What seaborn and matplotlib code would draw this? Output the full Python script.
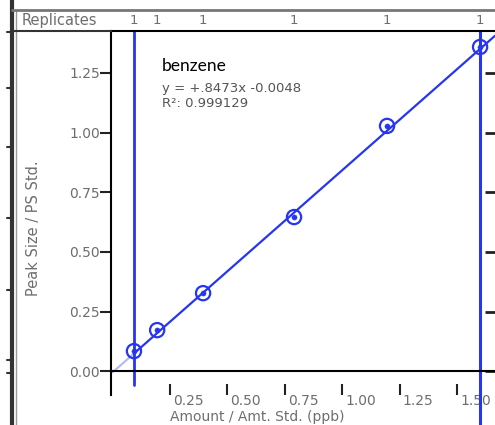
import numpy as np
import matplotlib.pyplot as plt
import matplotlib.transforms as mtransforms
from matplotlib.lines import Line2D
import seaborn as sns

# Calibration data for benzene
amount = [0.093, 0.194, 0.394, 0.790, 1.195, 1.600]
peak_ratio = [0.084, 0.172, 0.327, 0.646, 1.028, 1.359]
replicates = [1, 1, 1, 1, 1, 1]
slope, intercept = 0.8473, -0.0048
r_squared = 0.999129
compound = "benzene"
x_ticks = [0.25, 0.50, 0.75, 1.00, 1.25, 1.50]
y_ticks = [0.00, 0.25, 0.50, 0.75, 1.00, 1.25]

blue = "#2636f0"
grey = "#6e6e6e"

sns.set_style("white")
plt.rcParams['font.family'] = ['DejaVu Sans']

W, H = 495, 425
fig = plt.figure(figsize=(W / 100, H / 100), dpi=100)
ax = fig.add_axes([111 / W, 1 - 395 / H, 384 / W, 364 / H])

xmin, xmax = -0.007, 1.665
ymin, ymax = -0.10, 1.426
ax.set_xlim(xmin, xmax)
ax.set_ylim(ymin, ymax)

# fit line: faint below the first standard, solid beyond it
x0 = min(amount)
ax.plot([0, x0], [intercept, slope * x0 + intercept], color=blue, alpha=0.35, lw=1.5)
ax.plot([x0, xmax], [slope * x0 + intercept, slope * xmax + intercept], color=blue, lw=1.6)

# calibration range limits
ax.plot([x0, x0], [ymax, -0.06], color=blue, lw=2, clip_on=False)
ax.plot([max(amount), max(amount)], [ymax, -0.23], color=blue, lw=2.2, clip_on=False)

sns.scatterplot(x=amount, y=peak_ratio, ax=ax, s=105, facecolor="none",
                edgecolor=blue, linewidth=1.6, zorder=5)
sns.scatterplot(x=amount, y=peak_ratio, ax=ax, s=14, color=blue,
                edgecolor=blue, zorder=6)

ax.axhline(0, color="black", lw=1.5, zorder=4)

for s in ["bottom", "right"]:
    ax.spines[s].set_visible(False)
for s in ["left", "top"]:
    ax.spines[s].set_color("black")
    ax.spines[s].set_linewidth(1.5)

ax.set_xticks(x_ticks)
ax.set_xticklabels([f"{v:.2f}" for v in x_ticks], ha="left")
ax.set_yticks(y_ticks)
ax.set_yticklabels([f"{v:.2f}" for v in y_ticks])
ax.tick_params(axis="x", direction="in", length=8, width=1.5, color="#222222",
               labelsize=10, labelcolor=grey, pad=-1, bottom=True)
ax.tick_params(axis="y", direction="out", length=8, width=1.5, color="#222222",
               labelsize=10, labelcolor=grey, pad=0, left=True, right=True)
for t in ax.yaxis.get_major_ticks():
    t.tick2line.set_marker(0)  # pointing left from the right edge
    t.tick2line.set_markersize(7)
    t.tick2line.set_markeredgewidth(2)

# x tick labels sit a little right of their tick
offset = mtransforms.ScaledTranslation(3 / 100, 0, fig.dpi_scale_trans)
for lbl in ax.get_xticklabels():
    lbl.set_transform(lbl.get_transform() + offset)

# equation box
ax.text(0.215, 1.279, compound, fontsize=12.5, family=["Lato", "DejaVu Sans"],
        color="black", va="center")
ax.text(0.215, 1.183, f"y = +{slope:.4f}x -{abs(intercept):.4f}".replace("0.8473", ".8473"),
        fontsize=9.5, color="#555555", va="center")
ax.text(0.215, 1.124, f"R²: {r_squared}", fontsize=9.5, color="#555555", va="center")

# replicate counts band above the plot
for xv, n in zip(amount, replicates):
    ax.text(xv, 1 + 11 / 364, str(n), transform=ax.get_xaxis_transform(),
            ha="center", va="center", fontsize=9.5, color=grey, clip_on=False)
fig.text(22 / W, 1 - 20 / H, "Replicates", fontsize=10.5, color=grey,
         ha="left", va="center")

fig.text(34 / W, 1 - 228 / H, "Peak Size / PS Std.", rotation=90, fontsize=10.5,
         color=grey, ha="center", va="center")
fig.text(257 / W, 1 - 417 / H, "Amount / Amt. Std. (ppb)", fontsize=10,
         color=grey, ha="center", va="center")

# frame pieces from the surrounding window
def fline(xs, ys, **kw):
    fig.add_artist(Line2D([x / W for x in xs], [1 - y / H for y in ys], **kw))

fline([12, 12], [0, 425], color="#333333", lw=3)
fline([16, 16], [10, 425], color="#999999", lw=1)
fline([12, 495], [10, 10], color="#777777", lw=2)
fline([14, 111], [31, 31], color="#333333", lw=1.5)
for yy in [32, 88, 147, 218, 290, 360, 373]:
    fline([7, 12], [yy, yy], color="#333333", lw=1.5)

fig.savefig("out.png", dpi=100)
